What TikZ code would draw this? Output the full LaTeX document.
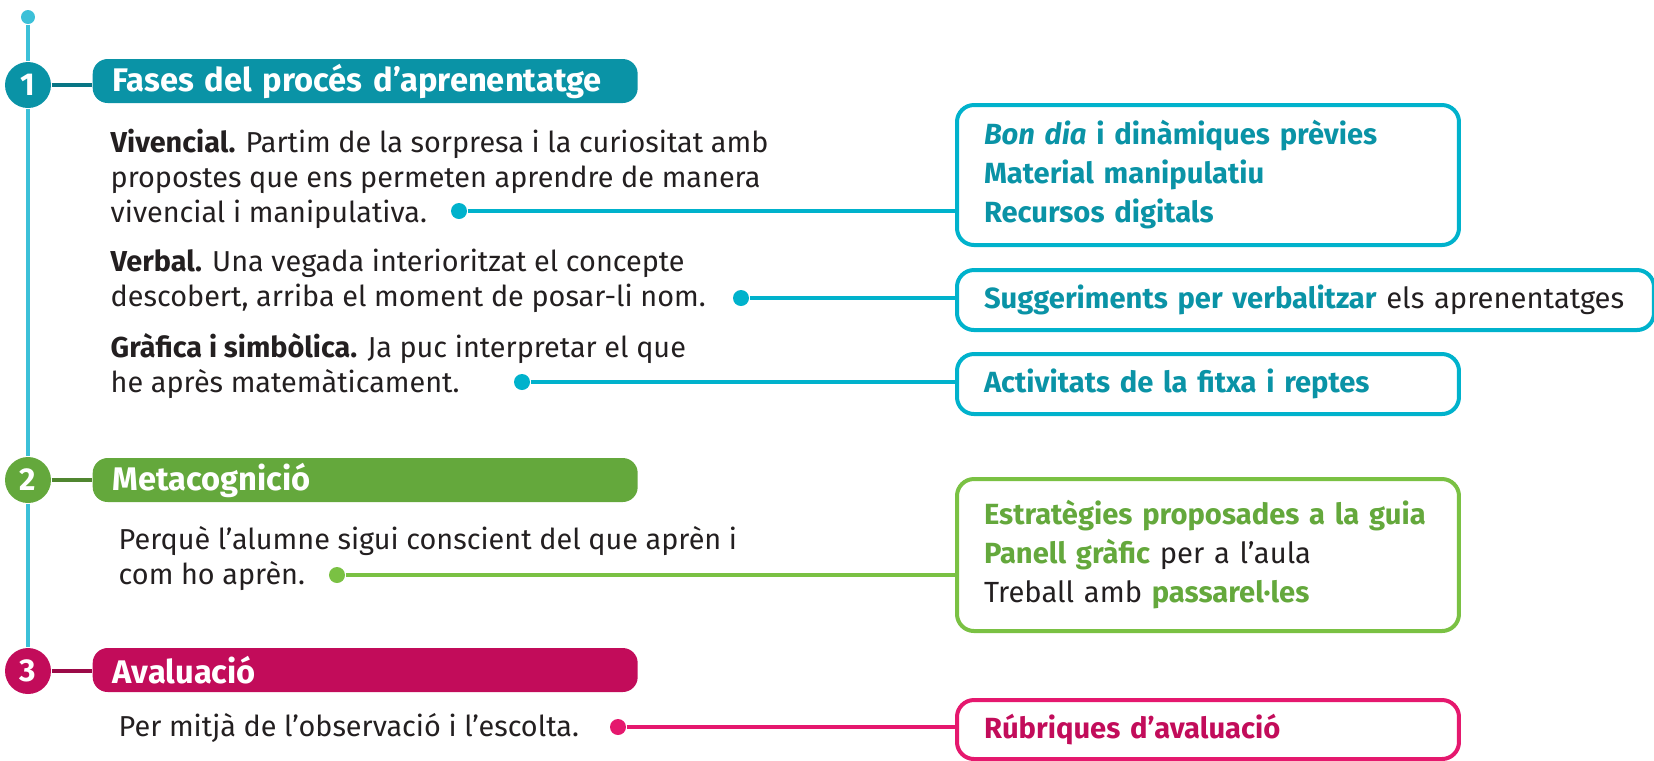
\documentclass[tikz,border=0pt]{standalone}
\usepackage{fontspec}
\setmainfont{Fira Sans}
\usetikzlibrary{positioning}
\definecolor{ink}{RGB}{35,31,32}
\definecolor{tealhead}{RGB}{10,147,166}
\definecolor{tealline}{RGB}{0,178,204}
\definecolor{tealvert}{RGB}{60,192,216}
\definecolor{greenhead}{RGB}{100,168,60}
\definecolor{greenline}{RGB}{122,193,67}
\definecolor{pinkhead}{RGB}{194,12,90}
\definecolor{pinkline}{RGB}{229,24,110}
\tikzstyle{num}=[circle,minimum size=4.6mm,inner sep=0pt,text=white,font=\bfseries\fontsize{9}{9}\selectfont]
\tikzstyle{header}=[anchor=west,rounded corners=1.5mm,minimum height=4.4mm,inner ysep=0pt,text width=50.5mm,inner xsep=2mm,align=left,text=white,font=\bfseries\fontsize{9.3}{11}\selectfont]
\tikzstyle{body}=[anchor=north west,align=left,inner sep=0pt,text=ink,font=\fontsize{8.2}{9.96}\selectfont]
\tikzstyle{dot}=[circle,minimum size=1.6mm,inner sep=0pt]
\tikzstyle{infobox}=[draw,line width=0.4mm,rounded corners=1.7mm,anchor=north west,align=left,inner xsep=2.7mm,font=\bfseries\fontsize{8.3}{11.1}\selectfont]
\tikzstyle{link}=[line width=0.4mm]

\begin{document}
\begin{tikzpicture}[x=0.1mm,y=-0.1mm]
\useasboundingbox (0,0) rectangle (1654,760);
\node[dot,fill=tealvert,minimum size=1.4mm] at (28,17) (top) {};
\node[num,fill=tealhead] at (28,85) (n1) {1};
\node[num,fill=greenhead] at (28,480) (n2) {2};
\node[num,fill=pinkhead] at (28,671) (n3) {3};
\node[header,fill=tealhead] at (92,81) (h1) {Fases del procés d’aprenentatge};
\node[header,fill=greenhead] at (92,480) (h2) {Metacognició};
\node[header,fill=pinkhead] at (92,670) (h3) {Avaluació};
\draw[link,tealvert] (top) -- (n1) -- (n2) -- (n3);
\draw[link,tealhead!80!black] (n1) -- (n1 -| h1.west);
\draw[link,greenhead!80!black] (n2) -- (n2 -| h2.west);
\draw[link,pinkhead!80!black] (n3) -- (n3 -| h3.west);

% fases
\node[body] at (110,128) (p1) {\textbf{Vivencial.} Partim de la sorpresa i la curiositat amb\\propostes que ens permeten aprendre de manera\\vivencial i manipulativa.};
\node[body] at (110,248) (p2) {\textbf{Verbal.} Una vegada interioritzat el concepte\\descobert, arriba el moment de posar-li nom.};
\node[body] at (110,333) (p3) {\textbf{Gràfica i simbòlica.} Ja puc interpretar el que\\he après matemàticament.};
\node[body] at (118,526) (p4) {Perquè l’alumne sigui conscient del que aprèn i\\com ho aprèn.};
\node[body] at (118,713) (p5) {Per mitjà de l’observació i l’escolta.};

\node[dot,fill=tealline] at (459,211) (d1) {};
\node[dot,fill=tealline] at (741,298) (d2) {};
\node[dot,fill=tealline] at (522,382) (d3) {};
\node[dot,fill=greenline] at (337,575) (d4) {};
\node[dot,fill=pinkline] at (618,727) (d5) {};

\node[infobox,draw=tealline,text=tealhead,text width=44.8mm,minimum height=14mm] at (955,103) (b1) {\textit{Bon dia} i dinàmiques prèvies\\Material manipulatiu\\Recursos digitals};
\node[infobox,draw=tealline,text=tealhead,text width=64.3mm,minimum height=6mm] at (955,268) (b2) {Suggeriments per verbalitzar \textcolor{ink}{\mdseries els aprenentatges}};
\node[infobox,draw=tealline,text=tealhead,text width=44.8mm,minimum height=6mm] at (955,352) (b3) {Activitats de la fitxa i reptes};
\node[infobox,draw=greenline,text=greenhead,text width=44.8mm,minimum height=15.2mm] at (955,477) (b4) {Estratègies proposades a la guia\\Panell gràfic \textcolor{ink}{\mdseries per a l’aula}\\\textcolor{ink}{\mdseries Treball amb} passarel·les};
\node[infobox,draw=pinkline,text=pinkhead,text width=44.8mm,minimum height=5.9mm] at (955,698) (b5) {Rúbriques d’avaluació};

\draw[link,tealline] (d1) -- (d1 -| b1.west);
\draw[link,tealline] (d2) -- (d2 -| b2.west);
\draw[link,tealline] (d3) -- (d3 -| b3.west);
\draw[link,greenline] (d4) -- (d4 -| b4.west);
\draw[link,pinkline] (d5) -- (d5 -| b5.west);
\end{tikzpicture}
\end{document}
